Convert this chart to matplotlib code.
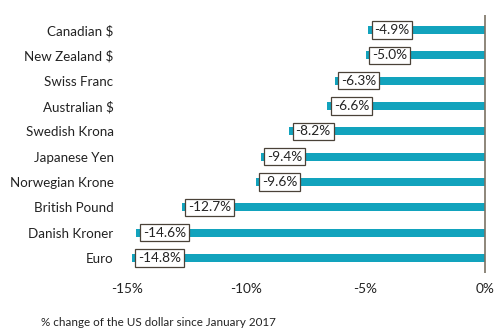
import matplotlib
matplotlib.use("Agg")
import matplotlib.pyplot as plt

categories = ["Canadian $", "New Zealand $", "Swiss Franc", "Australian $", "Swedish Krona",
              "Japanese Yen", "Norwegian Krone", "British Pound", "Danish Kroner", "Euro"]
values = [-4.9, -5.0, -6.3, -6.6, -8.2, -9.4, -9.6, -12.7, -14.6, -14.8]
xticks = [-15, -10, -5, 0]
xticklabels = ["-15%", "-10%", "-5%", "0%"]
footnote = "% change of the US dollar since January 2017"

plt.rcParams['font.family'] = ['Lato', 'DejaVu Sans']
fig = plt.figure(figsize=(5, 3.28), dpi=100)
ax = fig.add_axes([0.23, 0.167, 0.7494, 0.788])

bar_color = "#12a3bd"
ypos = list(range(len(categories)))
ax.barh(ypos, values, height=0.32, color=bar_color, zorder=2)
ax.axvline(0, color="#7a7264", lw=1.2, zorder=3)

for y, v in zip(ypos, values):
    ax.annotate(f"{v:.1f}%", xy=(v, y), xytext=(4.6, 0), textcoords="offset points",
                ha="left", va="center", fontsize=9.8, color="#222222", zorder=4,
                bbox=dict(boxstyle="square,pad=0.2", fc="white", ec="#4a4238", lw=0.9))

ax.set_xlim(-15.5, 0.2)
ax.set_ylim(9.6, -0.6)
ax.set_yticks(ypos)
ax.set_yticklabels(categories, fontsize=9.6, color="#222222")
ax.set_xticks(xticks)
ax.set_xticklabels(xticklabels, fontsize=9.8, color="#222222")
ax.tick_params(axis="both", length=0)
ax.tick_params(axis="y", pad=1)
ax.tick_params(axis="x", pad=7)
for s in ax.spines.values():
    s.set_visible(False)

fig.text(0.082, 0.0, footnote, fontsize=8.4, color="#222222", ha="left", va="bottom")

fig.savefig("out.png", dpi=100)
